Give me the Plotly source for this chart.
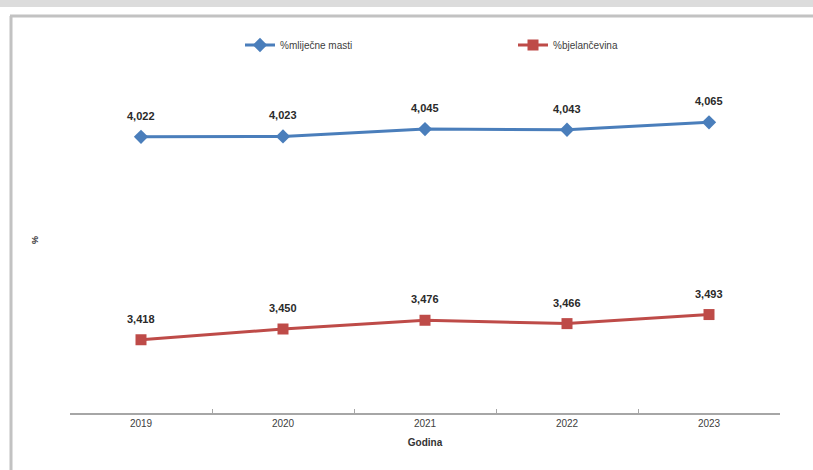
import plotly.graph_objects as go

years = ["2019", "2020", "2021", "2022", "2023"]
fat = [4.022, 4.023, 4.045, 4.043, 4.065]
protein = [3.418, 3.450, 3.476, 3.466, 3.493]
fat_name = "%mliječne masti"
protein_name = "%bjelančevina"

W, H = 813, 470
L, R, T, B = 70, 33, 77, 57
pw, ph = W - L - R, H - T - B

def px_x(x):
    return (x - L) / pw

def px_y(y):
    return 1 - (y - T) / ph

blue = "#4a7ebb"
red = "#be4b48"

fig = go.Figure()
fig.add_trace(go.Scatter(x=years, y=fat, name=fat_name, mode="lines+markers",
                         line=dict(color=blue, width=3),
                         marker=dict(symbol="diamond", size=11, color=blue)))
fig.add_trace(go.Scatter(x=years, y=protein, name=protein_name, mode="lines+markers",
                         line=dict(color=red, width=3),
                         marker=dict(symbol="square", size=11, color=red)))

annotations = []
for series in (fat, protein):
    for i, v in enumerate(series):
        annotations.append(dict(x=i, y=v, xref="x", yref="y",
                                text=f"{v:.3f}".replace(".", ","),
                                showarrow=False, yshift=21,
                                font=dict(family="Liberation Sans, Arial", size=11, color="#2a2a2a",
                                          weight="bold")))
annotations.append(dict(x=px_x(28), y=px_y(240), xref="paper", yref="paper", text="%",
                        textangle=-90, showarrow=False,
                        font=dict(family="Liberation Sans, Arial", size=9, color="#333333", weight="bold")))

shapes = [
    dict(type="rect", xref="paper", yref="paper", x0=px_x(-5), x1=px_x(W + 5),
         y0=px_y(7), y1=px_y(-5), fillcolor="#dcdcdc", line=dict(width=0), layer="below"),
    dict(type="line", xref="paper", yref="paper", x0=px_x(10), x1=px_x(W + 5),
         y0=px_y(16), y1=px_y(16), line=dict(color="#c2c2c2", width=3), layer="below"),
    dict(type="line", xref="paper", yref="paper", x0=px_x(11), x1=px_x(11),
         y0=px_y(16), y1=px_y(H + 5), line=dict(color="#c2c2c2", width=3), layer="below"),
]

fig.update_layout(
    width=W, height=H,
    margin=dict(l=L, r=R, t=T, b=B, autoexpand=False),
    paper_bgcolor="white", plot_bgcolor="white",
    font=dict(family="Liberation Sans, Arial", color="#404040"),
    showlegend=True,
    legend=dict(orientation="h", x=px_x(240), xanchor="left", y=px_y(45), yanchor="middle",
                entrywidth=228, entrywidthmode="pixels",
                font=dict(size=10, color="#404040"), bgcolor="rgba(0,0,0,0)"),
    xaxis=dict(type="category", range=[-0.5, 4.5], showline=True, linecolor="#a6a6a6", linewidth=2,
               ticks="inside", tickson="boundaries", ticklen=4, tickcolor="#a6a6a6",
               showgrid=False, tickfont=dict(size=10, color="#404040"),
               title=dict(text="<b>Godina</b>", font=dict(size=10, color="#333333"), standoff=11)),
    yaxis=dict(range=[3.2, 4.2], visible=False),
    annotations=annotations,
    shapes=shapes,
)

fig.write_html("out.html", config={"displayModeBar": False},
               post_script="document.body.style.margin='0';document.body.style.overflow='hidden';")
